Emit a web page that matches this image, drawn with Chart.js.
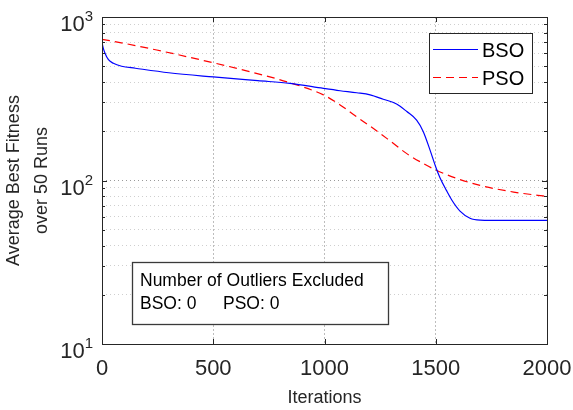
<!DOCTYPE html>
<html>
<head>
<meta charset="utf-8">
<script src="https://cdn.jsdelivr.net/npm/chart.js@4.4.1/dist/chart.umd.min.js"></script>
<style>
  html, body { margin: 0; padding: 0; background: #fff; }
</style>
</head>
<body>
<canvas id="chart" width="573" height="410"></canvas>
<script>
// values
const bsoIters   = [0, 5, 13, 29, 51, 88, 150, 300, 500, 700, 845, 995, 1070, 1145, 1205, 1264, 1324, 1370, 1414, 1444, 1474, 1500, 1519, 1548, 1572, 1609, 1654, 1700, 1800, 2000];
const bsoFitness = [700, 650, 603, 548, 521, 500, 486, 456, 430, 408, 393, 366, 354, 344, 334, 314, 294, 264, 234, 199, 154, 121, 104, 87, 76, 65, 58.8, 57.3, 57, 57];

const psoIters   = [0, 100, 246, 500, 665, 845, 995, 1070, 1145, 1220, 1294, 1370, 1444, 1500, 1594, 1699, 1850, 1982, 2000];
const psoFitness = [730, 690, 628, 525, 463, 396, 334, 290, 245, 208, 175, 146, 127, 116, 103, 93.3, 85, 80.5, 80];

const xTickValues = [0, 500, 1000, 1500, 2000];
const yDecades = [10, 100, 1000];
const seriesNames = ["BSO", "PSO"];
const noteTitle = "Number of Outliers Excluded";
const noteCounts = ["BSO: 0", "PSO: 0"];

const FONT = "'Liberation Sans', Arial, Helvetica, sans-serif";
const INK = "#262626";

function toPoints(xs, ys) {
  return xs.map((x, i) => ({ x: x, y: ys[i] }));
}

// box, inward ticks, log tick labels, legend and the outliers note
const matlabAxes = {
  id: "matlabAxes",
  afterDraw(chart) {
    const ctx = chart.ctx;
    const a = chart.chartArea;
    const xs = chart.scales.x;
    const ys = chart.scales.y;
    ctx.save();
    ctx.strokeStyle = INK;
    ctx.lineWidth = 1;
    ctx.setLineDash([]);

    // y ticks, both sides
    ys.ticks.forEach(t => {
      const y = Math.round(ys.getPixelForValue(t.value)) + 0.5;
      const len = yDecades.includes(t.value) ? 5 : 3;
      ctx.beginPath();
      ctx.moveTo(a.left, y); ctx.lineTo(a.left + len, y);
      ctx.moveTo(a.right, y); ctx.lineTo(a.right - len, y);
      ctx.stroke();
    });
    // x ticks, top and bottom
    xTickValues.forEach(v => {
      const x = Math.round(xs.getPixelForValue(v)) + 0.5;
      ctx.beginPath();
      ctx.moveTo(x, a.bottom); ctx.lineTo(x, a.bottom - 5);
      ctx.moveTo(x, a.top); ctx.lineTo(x, a.top + 5);
      ctx.stroke();
    });
    // box
    ctx.strokeRect(Math.round(a.left) + 0.5, Math.round(a.top) + 0.5,
                   Math.round(a.right - a.left), Math.round(a.bottom - a.top));

    // y tick labels 10^n
    ctx.fillStyle = INK;
    ctx.textBaseline = "alphabetic";
    yDecades.forEach(v => {
      const y = ys.getPixelForValue(v);
      const exp = String(Math.round(Math.log10(v)));
      ctx.font = "15px " + FONT;
      const ew = ctx.measureText(exp).width;
      ctx.textAlign = "right";
      ctx.fillText(exp, 93, y + 4);
      ctx.font = "22px " + FONT;
      ctx.fillText("10", 93 - ew, y + 14);
    });

    // legend
    const lx = 429, ly = 33, lw = 103, lh = 60;
    ctx.fillStyle = "#fff";
    ctx.fillRect(lx, ly, lw, lh);
    ctx.strokeStyle = INK;
    ctx.strokeRect(lx + 0.5, ly + 0.5, lw, lh);
    const styles = chart.data.datasets;
    [49, 77].forEach((yy, i) => {
      ctx.strokeStyle = styles[i].borderColor;
      ctx.lineWidth = 1.2;
      ctx.setLineDash(styles[i].borderDash || []);
      ctx.beginPath();
      ctx.moveTo(433, yy + 0.5); ctx.lineTo(478, yy + 0.5);
      ctx.stroke();
      ctx.setLineDash([]);
      ctx.fillStyle = "#000";
      ctx.font = "20px " + FONT;
      ctx.textAlign = "left";
      ctx.fillText(seriesNames[i], 482, yy + 8);
    });

    // outliers note
    const nx = 132, ny = 262, nw = 256, nh = 62;
    ctx.fillStyle = "#fff";
    ctx.fillRect(nx, ny, nw, nh);
    ctx.strokeStyle = "#3a3a3a";
    ctx.lineWidth = 1.3;
    ctx.strokeRect(nx + 0.5, ny + 0.5, nw, nh);
    ctx.fillStyle = "#000";
    ctx.font = "17.5px " + FONT;
    ctx.textAlign = "left";
    ctx.fillText(noteTitle, 140, 286);
    ctx.fillText(noteCounts[0], 140, 309);
    ctx.fillText(noteCounts[1], 223, 309);
    ctx.restore();
  }
};

new Chart(document.getElementById("chart"), {
  type: "line",
  data: {
    datasets: [
      {
        label: seriesNames[0],
        data: toPoints(bsoIters, bsoFitness),
        borderColor: "#0000ff",
        borderWidth: 1.2,
        pointRadius: 0,
        cubicInterpolationMode: "monotone",
        fill: false
      },
      {
        label: seriesNames[1],
        data: toPoints(psoIters, psoFitness),
        borderColor: "#ff0000",
        borderWidth: 1.2,
        borderDash: [8, 5],
        pointRadius: 0,
        cubicInterpolationMode: "monotone",
        fill: false
      }
    ]
  },
  options: {
    responsive: false,
    animation: false,
    devicePixelRatio: 1,
    layout: { padding: { left: 0, top: 17, right: 26, bottom: 1 } },
    plugins: { legend: { display: false }, tooltip: { enabled: false } },
    scales: {
      x: {
        type: "linear",
        min: 0,
        max: 2000,
        afterBuildTicks: s => { s.ticks = xTickValues.map(v => ({ value: v })); },
        afterFit: s => { s.height = 65; s.paddingLeft = 0; s.paddingRight = 0; },
        grid: {
          drawTicks: false,
          color: c => (c.tick && (c.tick.value === 0 || c.tick.value === 2000)) ? "rgba(0,0,0,0)" : "#bdbdbd"
        },
        border: { display: false, dash: [2, 2] },
        ticks: {
          color: INK,
          font: { family: FONT, size: 22 },
          padding: 12,
          maxRotation: 0,
          callback: v => String(v)
        },
        title: {
          display: true,
          text: "Iterations",
          color: INK,
          font: { family: FONT, size: 18 },
          padding: { top: 0, bottom: 0 }
        }
      },
      y: {
        type: "logarithmic",
        min: 10,
        max: 1000,
        afterBuildTicks: s => {
          const ticks = [];
          yDecades.forEach(d => {
            if (d === 1000) { ticks.push({ value: d }); return; }
            for (let m = 1; m < 10; m++) ticks.push({ value: d * m });
          });
          s.ticks = ticks;
        },
        afterFit: s => { s.width = 102; },
        grid: {
          drawTicks: false,
          color: c => {
            if (!c.tick) return "#d4d4d4";
            if (c.tick.value === 10 || c.tick.value === 1000) return "rgba(0,0,0,0)";
            return c.tick.value === 100 ? "#9a9a9a" : "#cfcfcf";
          }
        },
        border: { display: false, dash: [1, 3] },
        ticks: { display: false },
        title: {
          display: true,
          text: ["Average Best Fitness", "over 50 Runs"],
          color: INK,
          font: { family: FONT, size: 18, lineHeight: 1.55 },
          padding: { top: 0, bottom: 0 }
        }
      }
    }
  },
  plugins: [matlabAxes]
});
</script>
</body>
</html>
